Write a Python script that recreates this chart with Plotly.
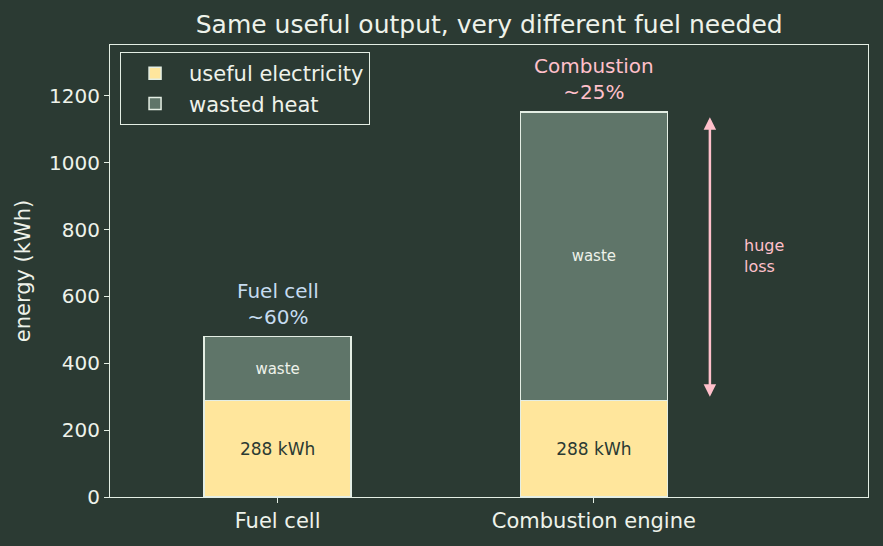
import plotly.graph_objects as go

categories = ["Fuel cell", "Combustion engine"]
useful = [288, 288]
waste = [192, 864]
efficiency_labels = ["Fuel cell<br>~60%", "Combustion<br>~25%"]
label_colors = ["#c6dcf0", "#ffc0cb"]

BG = "#2b3a33"
FG = "#eef2ea"
EDGE = "#e4eee4"
USEFUL_C = "#ffe69c"
WASTE_C = "#5f7569"

x = [0, 1]
fig = go.Figure()
fig.add_trace(go.Bar(
    x=x, y=useful, name="useful electricity", width=0.465,
    marker=dict(color=USEFUL_C, line=dict(color=EDGE, width=1.5)),
    text=[f"{v} kWh" for v in useful], textposition="inside", insidetextanchor="middle",
    textfont=dict(color="#2b3a33", size=17), hoverinfo="skip"))
fig.add_trace(go.Bar(
    x=x, y=waste, name="wasted heat", width=0.465,
    marker=dict(color=WASTE_C, line=dict(color=EDGE, width=1.5)),
    text=["waste", "waste"], textposition="inside", insidetextanchor="middle",
    textfont=dict(color=FG, size=15), hoverinfo="skip"))

totals = [u + w for u, w in zip(useful, waste)]
for xi, t, lab, c in zip(x, totals, efficiency_labels, label_colors):
    fig.add_annotation(x=xi, y=t, text=lab, showarrow=False, yanchor="bottom",
                       yshift=6, font=dict(color=c, size=20))

# double-headed arrow for combustion loss
fig.add_annotation(x=1.367, y=useful[1], ax=1.367, ay=totals[1],
                   xref="x", yref="y", axref="x", ayref="y",
                   text="", showarrow=True, arrowhead=2, startarrowhead=2,
                   arrowside="end+start", arrowwidth=2.5, arrowcolor="#ffc0cb",
                   arrowsize=1, standoff=4, startstandoff=4)
fig.add_annotation(x=1.47, y=useful[1] + waste[1] / 2, text="huge<br>loss",
                   showarrow=False, xanchor="left", align="left",
                   font=dict(color="#ffc0cb", size=16))

fig.update_layout(
    barmode="stack", width=883, height=546,
    paper_bgcolor=BG, plot_bgcolor=BG,
    font=dict(family="DejaVu Sans", color=FG, size=20),
    title=dict(text="Same useful output, very different fuel needed", x=0.554,
               xanchor="center", y=0.956, yanchor="middle", font=dict(size=25, color=FG)),
    margin=dict(l=110, r=15, t=45, b=49),
    showlegend=True,
    legend=dict(x=0.013, y=0.985, xanchor="left", yanchor="top",
                bgcolor=BG, bordercolor=EDGE, borderwidth=1.2, itemwidth=58,
                font=dict(size=21, color=FG), traceorder="normal"),
    xaxis=dict(range=[-0.53, 1.867], tickvals=x, ticktext=categories,
               showgrid=False, zeroline=False, showline=True, linecolor=EDGE,
               linewidth=1.2, mirror=True, ticks="outside", tickcolor=EDGE,
               ticklen=5, tickfont=dict(size=21, color=FG)),
    yaxis=dict(range=[0, 1352], dtick=200, showgrid=False, zeroline=False,
               showline=True, linecolor=EDGE, linewidth=1.2, mirror=True,
               ticks="outside", tickcolor=EDGE, ticklen=5,
               tickfont=dict(size=20, color=FG),
               title=dict(text="energy (kWh)", font=dict(size=21, color=FG), standoff=12)),
)

fig.write_html("out.html")
